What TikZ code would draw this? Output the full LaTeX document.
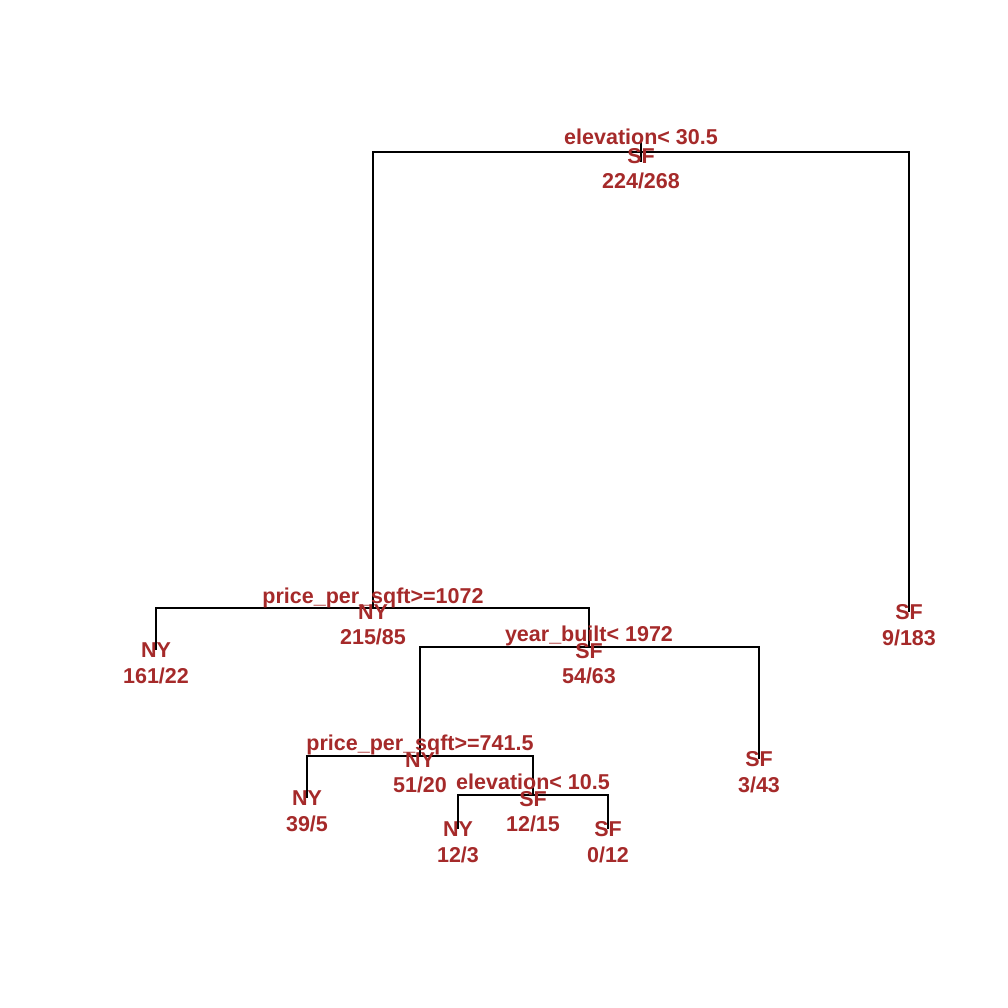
\documentclass[tikz,border=0pt]{standalone}
\usepackage{fontspec}
\setmainfont{Liberation Sans}
\definecolor{rbrown}{HTML}{A52A2A}
\begin{document}
\begin{tikzpicture}[x=1pt,y=-1pt,
  edge/.style={line width=1.2pt,black},
  lbl/.style={text=rbrown,font=\fontsize{21.5}{24}\selectfont\bfseries,anchor=base,inner sep=0pt}]
\useasboundingbox (0,0) rectangle (1008,1008);
% node points
\coordinate (n1) at (641,152);
\coordinate (n2) at (373,608);
\coordinate (n3) at (909,612);
\coordinate (n4) at (156,650);
\coordinate (n5) at (589,647);
\coordinate (n10) at (420,756);
\coordinate (n11) at (759,759);
\coordinate (n20) at (307,798);
\coordinate (n21) at (533,795);
\coordinate (n42) at (458,829);
\coordinate (n43) at (608,829);
\coordinate (t1) at (641,141);
\coordinate (t2) at (641,162);
% branches
\draw[edge] (t1) -- (t2);
\draw[edge] (n1) -| (n2);
\draw[edge] (n1) -| (n3);
\draw[edge] (n2) -| (n4);
\draw[edge] (n2) -| (n5);
\draw[edge] (n5) -| (n10);
\draw[edge] (n5) -| (n11);
\draw[edge] (n10) -| (n20);
\draw[edge] (n10) -| (n21);
\draw[edge] (n21) -| (n42);
\draw[edge] (n21) -| (n43);
% internal labels
\node[lbl] (s1) at ([yshift=7.5pt]n1) {elevation< 30.5};
\node[lbl] (c1) at ([yshift=-11.5pt]n1) {SF};
\node[lbl] (k1) at ([yshift=-36.5pt]n1) {224/268};
\node[lbl] (s2) at ([yshift=5pt]n2) {price\_per\_sqft>=1072};
\node[lbl] (c2) at ([yshift=-11pt]n2) {NY};
\node[lbl] (k2) at ([yshift=-36pt]n2) {215/85};
\node[lbl] (s5) at ([yshift=5.5pt]n5) {year\_built< 1972};
\node[lbl] (c5) at ([yshift=-11.5pt]n5) {SF};
\node[lbl] (k5) at ([yshift=-36.5pt]n5) {54/63};
\node[lbl] (s10) at ([yshift=5.5pt]n10) {price\_per\_sqft>=741.5};
\node[lbl] (c10) at ([yshift=-11.5pt]n10) {NY};
\node[lbl] (k10) at ([yshift=-36.5pt]n10) {51/20};
\node[lbl] (s21) at ([yshift=5.5pt]n21) {elevation< 10.5};
\node[lbl] (c21) at ([yshift=-11.5pt]n21) {SF};
\node[lbl] (k21) at ([yshift=-36.5pt]n21) {12/15};
% leaf labels
\node[lbl] (c3) at ([yshift=-7.5pt]n3) {SF};
\node[lbl] (k3) at ([yshift=-33.5pt]n3) {9/183};
\node[lbl] (c4) at ([yshift=-7.5pt]n4) {NY};
\node[lbl] (k4) at ([yshift=-33.5pt]n4) {161/22};
\node[lbl] (c11) at ([yshift=-7.5pt]n11) {SF};
\node[lbl] (k11) at ([yshift=-33.5pt]n11) {3/43};
\node[lbl] (c20) at ([yshift=-7.5pt]n20) {NY};
\node[lbl] (k20) at ([yshift=-33.5pt]n20) {39/5};
\node[lbl] (c42) at ([yshift=-7.5pt]n42) {NY};
\node[lbl] (k42) at ([yshift=-33.5pt]n42) {12/3};
\node[lbl] (c43) at ([yshift=-7.5pt]n43) {SF};
\node[lbl] (k43) at ([yshift=-33.5pt]n43) {0/12};
\end{tikzpicture}
\end{document}
